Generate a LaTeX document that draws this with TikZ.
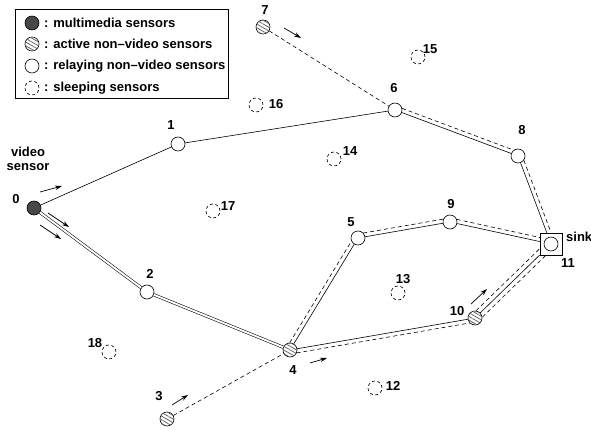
\documentclass[tikz,border=0pt]{standalone}
\usepackage{fontspec}
\setmainfont{Liberation Sans}
\usetikzlibrary{calc,arrows.meta,patterns.meta}

\tikzset{
  sensor/.style={circle, draw, line width=0.6pt, minimum size=14pt, inner sep=0pt},
  mmsensor/.style={sensor, fill=black!72},
  actsensor/.style={sensor, fill=white, postaction={pattern={Lines[angle=-30,distance=3.2pt,line width=0.8pt]}, pattern color=black!60}},
  relsensor/.style={sensor, fill=white},
  sleepsensor/.style={sensor, dash pattern=on 3pt off 2.5pt},
  sinkbox/.style={draw, line width=0.6pt, minimum size=22pt, inner sep=0pt},
  lbl/.style={inner sep=0pt, font=\fontsize{13}{14.5}\selectfont\bfseries},
  legtxt/.style={lbl, anchor=west},
  wire/.style={line width=0.6pt},
  twin/.style={double, line width=0.55pt, double distance=1.9pt},
  flow/.style={line width=0.6pt, dash pattern=on 4pt off 3pt},
  arr/.style={line width=0.7pt, -{Stealth[length=7pt,width=4.5pt]}},
}

\begin{document}
\begin{tikzpicture}[x=1pt,y=-1pt]
\useasboundingbox (0,0) rectangle (591,430);

% ---------- legend ----------
\node[draw, line width=0.6pt, minimum width=213pt, minimum height=89pt, inner sep=0pt, anchor=north west] (legend) at (15,9) {};
\node[mmsensor]    (k1) at (32,23) {};
\node[actsensor]   (k2) at (32,44) {};
\node[relsensor]   (k3) at (32,66) {};
\node[sleepsensor] (k4) at (32,88) {};
\node[legtxt] (t1) at (44,23) {: multimedia sensors};
\node[legtxt] (t2) at (44,44) {: active non--video sensors};
\node[legtxt] (t3) at (44,66) {: relaying non--video sensors};
\node[legtxt] (t4) at (44,88) {: sleeping sensors};

% ---------- sensors ----------
\node[mmsensor]  (n0)  at (34,208) {};
\node[relsensor] (n1)  at (178,144) {};
\node[relsensor] (n2)  at (147,292) {};
\node[actsensor] (n3)  at (167,419) {};
\node[actsensor] (n4)  at (290,350) {};
\node[relsensor] (n5)  at (358,238) {};
\node[relsensor] (n6)  at (395,110) {};
\node[actsensor] (n7)  at (263,27) {};
\node[relsensor] (n8)  at (518,156) {};
\node[relsensor] (n9)  at (450,222) {};
\node[actsensor] (n10) at (475,318) {};
\node[sinkbox]   (n11) at (551,244) {};
\node[relsensor] (n11c) at (551,244) {};

\node[sleepsensor] (n12) at (375,388) {};
\node[sleepsensor] (n13) at (398,293) {};
\node[sleepsensor] (n14) at (334,159) {};
\node[sleepsensor] (n15) at (418,57) {};
\node[sleepsensor] (n16) at (256,105) {};
\node[sleepsensor] (n17) at (213,211) {};
\node[sleepsensor] (n18) at (109,352) {};

% ---------- labels ----------
\node[lbl, align=center] (lvid) at (28,159) {video\\sensor};
\node[lbl] (l0)  at (16,199) {0};
\node[lbl] (l1)  at (171,125) {1};
\node[lbl] (l2)  at (150,274) {2};
\node[lbl] (l3)  at (159,396) {3};
\node[lbl] (l4)  at (293,370) {4};
\node[lbl] (l5)  at (351,222) {5};
\node[lbl] (l6)  at (394,88) {6};
\node[lbl] (l7)  at (265,10) {7};
\node[lbl] (l8)  at (522,130) {8};
\node[lbl] (l9)  at (451,204) {9};
\node[lbl] (l10) at (457,311) {10};
\node[lbl] (l11) at (568,263) {11};
\node[lbl] (l12) at (393,386) {12};
\node[lbl] (l13) at (403,279) {13};
\node[lbl] (l14) at (350,151) {14};
\node[lbl] (l15) at (430,49) {15};
\node[lbl] (l16) at (276,104) {16};
\node[lbl] (l17) at (228,206) {17};
\node[lbl] (l18) at (95,343) {18};
\node[lbl, anchor=west] (lsink) at (566,237) {sink};

% ---------- routes of the video stream ----------
\draw[wire] (n0) -- (n1);
\draw[wire] (n1) -- (n6);
\draw[wire] (n6) -- (n8);
\draw[wire] (n8) -- (n11);
\draw[wire] (n4) -- (n5);
\draw[wire] (n5) -- (n9);
\draw[wire] (n9) -- (n11);
\draw[wire] (n4) -- (n10);
\draw[wire] (n10) -- (n11);
\draw[twin] (n0) -- (n2);
\draw[twin] (n2) -- (n4);

% ---------- routes of the non-video data ----------
\draw[flow] (n7) -- (n6);
\draw[flow] (n3) -- (n4);
\draw[flow, shorten <=6pt, shorten >=6pt]
  ($(n6.center)!4pt!90:(n8.center)$) -- ($(n8.center)!4pt!-90:(n6.center)$);
\draw[flow, shorten <=6pt, shorten >=11pt]
  ($(n8.center)!4pt!90:(n11.center)$) -- ($(n11.center)!4pt!-90:(n8.center)$);
\draw[flow, shorten <=6pt, shorten >=6pt]
  ($(n4.center)!4pt!90:(n5.center)$) -- ($(n5.center)!4pt!-90:(n4.center)$);
\draw[flow, shorten <=6pt, shorten >=6pt]
  ($(n5.center)!4pt!90:(n9.center)$) -- ($(n9.center)!4pt!-90:(n5.center)$);
\draw[flow, shorten <=6pt, shorten >=11pt]
  ($(n9.center)!4pt!90:(n11.center)$) -- ($(n11.center)!4pt!-90:(n9.center)$);
\draw[flow, shorten <=6pt, shorten >=6pt]
  ($(n4.center)!4pt!-90:(n10.center)$) -- ($(n10.center)!4pt!90:(n4.center)$);
\draw[flow, shorten <=6pt, shorten >=11pt]
  ($(n10.center)!4.5pt!90:(n11.center)$) -- ($(n11.center)!4.5pt!-90:(n10.center)$);
\draw[flow, shorten <=6pt, shorten >=11pt]
  ($(n10.center)!4.5pt!-90:(n11.center)$) -- ($(n11.center)!4.5pt!90:(n10.center)$);

% ---------- direction marks ----------
\coordinate (a1s) at (40,192);  \coordinate (a1e) at (62,186);
\coordinate (a2s) at (48,213);  \coordinate (a2e) at (69,227);
\coordinate (a3s) at (40,225);  \coordinate (a3e) at (61,239);
\coordinate (a4s) at (284,28);  \coordinate (a4e) at (301,38);
\coordinate (a5s) at (310,363); \coordinate (a5e) at (327,358);
\coordinate (a6s) at (172,405); \coordinate (a6e) at (188,395);
\coordinate (a7s) at (471,304); \coordinate (a7e) at (487,289);
\draw[arr] (a1s) -- (a1e);
\draw[arr] (a2s) -- (a2e);
\draw[arr] (a3s) -- (a3e);
\draw[arr] (a4s) -- (a4e);
\draw[arr] (a5s) -- (a5e);
\draw[arr] (a6s) -- (a6e);
\draw[arr] (a7s) -- (a7e);
\end{tikzpicture}
\end{document}
